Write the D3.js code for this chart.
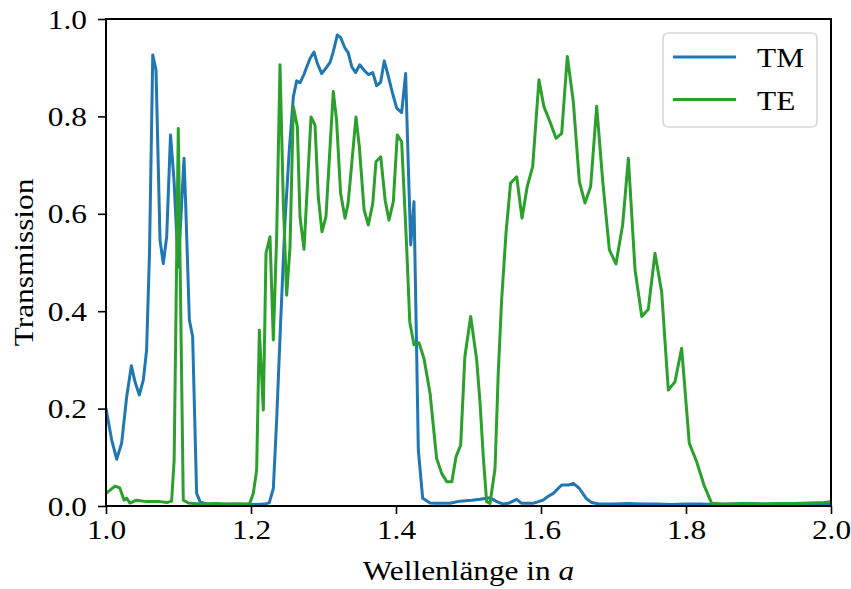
<!DOCTYPE html>
<html>
<head>
<meta charset="utf-8">
<script src="https://cdn.jsdelivr.net/npm/d3@7"></script>
<style>
  html, body { margin: 0; padding: 0; background: #fff; }
  svg { display: block; }
  text { font-family: "Liberation Serif", "DejaVu Serif", serif; fill: #000; }
</style>
</head>
<body>
<svg id="chart" width="851" height="589"></svg>
<script>
// Transmission spectra, [wavelength in units of a, transmission]
const tmData = [
  [1.000,0.200],[1.0078,0.136],[1.0147,0.096],[1.0216,0.129],[1.0285,0.224],[1.035,0.288],
  [1.040,0.255],[1.046,0.228],[1.0515,0.259],[1.056,0.320],[1.060,0.520],[1.0645,0.926],
  [1.069,0.895],[1.0745,0.546],[1.079,0.498],[1.0837,0.553],[1.089,0.762],[1.0938,0.669],
  [1.0997,0.491],[1.1076,0.714],[1.110,0.615],[1.115,0.382],[1.1195,0.348],[1.125,0.026],
  [1.130,0.008],[1.140,0.004],[1.160,0.003],[1.180,0.004],[1.200,0.003],[1.220,0.004],
  [1.2253,0.007],[1.2308,0.036],[1.2354,0.177],[1.241,0.382],[1.247,0.587],[1.2528,0.731],
  [1.2584,0.840],[1.263,0.873],[1.2676,0.869],[1.2735,0.888],[1.2814,0.919],[1.2869,0.932],
  [1.2915,0.909],[1.2975,0.888],[1.3034,0.899],[1.309,0.911],[1.3135,0.933],[1.319,0.967],
  [1.3236,0.962],[1.3297,0.940],[1.334,0.931],[1.339,0.902],[1.3443,0.890],[1.350,0.906],
  [1.3558,0.895],[1.3618,0.886],[1.368,0.890],[1.3733,0.863],[1.3788,0.870],[1.3838,0.914],
  [1.389,0.885],[1.3953,0.847],[1.401,0.817],[1.4078,0.808],[1.4133,0.888],[1.417,0.697],
  [1.4203,0.536],[1.4248,0.625],[1.4285,0.314],[1.4308,0.115],[1.4368,0.016],[1.447,0.006],
  [1.456,0.0055],[1.4745,0.0055],[1.488,0.010],[1.5044,0.012],[1.516,0.014],[1.5297,0.017],
  [1.539,0.009],[1.548,0.004],[1.555,0.0055],[1.5665,0.0137],[1.5733,0.0055],[1.589,0.0055],
  [1.603,0.012],[1.610,0.020],[1.617,0.026],[1.6285,0.043],[1.6377,0.043],[1.6446,0.0465],
  [1.653,0.036],[1.662,0.016],[1.670,0.007],[1.680,0.004],[1.700,0.004],[1.720,0.005],
  [1.740,0.004],[1.760,0.004],[1.780,0.003],[1.800,0.004],[1.820,0.004],[1.840,0.003],
  [1.860,0.004],[1.880,0.005],[1.900,0.004],[1.920,0.004],[1.940,0.005],[1.960,0.004],
  [1.980,0.004],[2.000,0.005]
];

const teData = [
  [1.000,0.026],[1.006,0.033],[1.0124,0.041],[1.019,0.037],[1.025,0.012],[1.0285,0.016],
  [1.033,0.006],[1.042,0.012],[1.056,0.009],[1.0745,0.009],[1.0837,0.007],[1.0905,0.010],
  [1.094,0.094],[1.0997,0.775],[1.102,0.520],[1.1066,0.012],[1.1135,0.006],[1.130,0.004],
  [1.150,0.005],[1.170,0.004],[1.190,0.004],[1.198,0.004],[1.2032,0.026],[1.2078,0.074],
  [1.2115,0.361],[1.217,0.197],[1.2207,0.519],[1.2262,0.553],[1.2308,0.341],[1.2354,0.553],
  [1.240,0.906],[1.2446,0.622],[1.2492,0.433],[1.2538,0.532],[1.2584,0.820],[1.2639,0.779],
  [1.2676,0.594],[1.2731,0.527],[1.2828,0.799],[1.2883,0.782],[1.2928,0.635],[1.2979,0.563],
  [1.3034,0.594],[1.3135,0.851],[1.318,0.793],[1.3236,0.642],[1.3297,0.591],[1.334,0.622],
  [1.3448,0.799],[1.3494,0.738],[1.356,0.608],[1.3618,0.577],[1.368,0.622],[1.3724,0.707],
  [1.379,0.717],[1.385,0.628],[1.3903,0.587],[1.3963,0.625],[1.4018,0.762],[1.4078,0.748],
  [1.4147,0.532],[1.419,0.378],[1.4248,0.331],[1.4317,0.335],[1.4386,0.303],[1.447,0.231],
  [1.456,0.098],[1.463,0.067],[1.470,0.050],[1.477,0.050],[1.4828,0.101],[1.4892,0.125],
  [1.495,0.307],[1.503,0.389],[1.5113,0.300],[1.516,0.210],[1.5204,0.101],[1.525,0.009],
  [1.5297,0.0055],[1.5366,0.077],[1.541,0.272],[1.5457,0.423],[1.5517,0.560],[1.558,0.663],
  [1.5665,0.676],[1.5738,0.591],[1.581,0.656],[1.5885,0.697],[1.5972,0.875],[1.604,0.820],
  [1.6124,0.789],[1.6207,0.755],[1.6285,0.765],[1.6363,0.923],[1.6446,0.830],[1.6529,0.666],
  [1.6607,0.622],[1.6685,0.656],[1.6768,0.821],[1.685,0.669],[1.6943,0.526],[1.7034,0.497],
  [1.7126,0.577],[1.7205,0.714],[1.7297,0.485],[1.739,0.389],[1.748,0.404],[1.7572,0.519],
  [1.7664,0.440],[1.7756,0.238],[1.7848,0.255],[1.794,0.324],[1.8045,0.129],[1.8147,0.091],
  [1.8248,0.043],[1.8354,0.0055],[1.850,0.004],[1.870,0.004],[1.890,0.005],[1.910,0.004],
  [1.930,0.005],[1.950,0.005],[1.970,0.006],[1.990,0.007],[2.000,0.009]
];

const seriesNames = ["TM", "TE"];
const seriesColors = ["#1f77b4", "#2ca02c"];
const xTicks = [1.0, 1.2, 1.4, 1.6, 1.8, 2.0];
const yTicks = [0.0, 0.2, 0.4, 0.6, 0.8, 1.0];
const xLabel = "Wellenlänge in ";
const xLabelVar = "a";
const yLabel = "Transmission";

const margin = { left: 106, top: 19, right: 20, bottom: 83 };
const W = 851, H = 589;
const plotW = W - margin.left - margin.right;  // 725
const plotH = H - margin.top - margin.bottom;  // 487

// The serif fallback runs narrower than the typeset labels, so each text is
// stretched to its natural width times this factor.
const widen = 1.16;
function stretch(sel) {
  sel.each(function () {
    const w = this.getComputedTextLength();
    d3.select(this).attr("textLength", w * widen).attr("lengthAdjust", "spacingAndGlyphs");
  });
}

const svg = d3.select("#chart");
const x = d3.scaleLinear().domain([1.0, 2.0]).range([margin.left, margin.left + plotW]);
const y = d3.scaleLinear().domain([0, 1]).range([margin.top + plotH, margin.top]);

svg.append("defs").append("clipPath").attr("id", "plotClip")
  .append("rect")
  .attr("x", margin.left).attr("y", margin.top)
  .attr("width", plotW).attr("height", plotH);

const line = d3.line().x(d => x(d[0])).y(d => y(d[1]));

const lines = svg.append("g").attr("clip-path", "url(#plotClip)");
[tmData, teData].forEach((data, i) => {
  lines.append("path")
    .datum(data)
    .attr("d", line)
    .attr("fill", "none")
    .attr("stroke", seriesColors[i])
    .attr("stroke-width", 3)
    .attr("stroke-linejoin", "round")
    .attr("stroke-linecap", "butt");
});

// Axes
const fmt = d3.format(".1f");
const xAxis = svg.append("g")
  .attr("transform", `translate(0,${margin.top + plotH})`)
  .call(d3.axisBottom(x).tickValues(xTicks).tickFormat(fmt).tickSize(8).tickPadding(6));
const yAxis = svg.append("g")
  .attr("transform", `translate(${margin.left},0)`)
  .call(d3.axisLeft(y).tickValues(yTicks).tickFormat(fmt).tickSize(8).tickPadding(11));

[xAxis, yAxis].forEach(g => {
  g.select(".domain").remove();
  g.selectAll(".tick line").attr("stroke", "#000").attr("stroke-width", 1.6);
  g.selectAll(".tick text")
    .attr("font-family", "Liberation Serif, DejaVu Serif, serif")
    .attr("font-size", 27)
    .attr("fill", "#000")
    .call(stretch);
});
xAxis.selectAll(".tick text").attr("dy", "0.72em");
yAxis.selectAll(".tick text").attr("dy", "0.34em");

// Frame
svg.append("rect")
  .attr("x", margin.left).attr("y", margin.top)
  .attr("width", plotW).attr("height", plotH)
  .attr("fill", "none").attr("stroke", "#000").attr("stroke-width", 2);

// Axis labels
const xl = svg.append("text")
  .attr("x", margin.left + plotW / 2)
  .attr("y", 580)
  .attr("text-anchor", "middle")
  .attr("font-size", 27);
xl.append("tspan").text(xLabel);
xl.append("tspan").attr("font-style", "italic").text(xLabelVar);
xl.call(stretch);

svg.append("text")
  .attr("transform", `translate(33,${margin.top + plotH / 2}) rotate(-90)`)
  .attr("text-anchor", "middle")
  .attr("font-size", 27)
  .text(yLabel)
  .call(stretch);

// Legend
const legend = svg.append("g");
legend.append("rect")
  .attr("x", 663).attr("y", 33)
  .attr("width", 154).attr("height", 94)
  .attr("rx", 5).attr("ry", 5)
  .attr("fill", "#fff").attr("fill-opacity", 0.8)
  .attr("stroke", "#d6d6d6").attr("stroke-width", 1.6);
seriesNames.forEach((name, i) => {
  const cy = 57 + i * 42.5;
  legend.append("line")
    .attr("x1", 673).attr("x2", 736)
    .attr("y1", cy).attr("y2", cy)
    .attr("stroke", seriesColors[i]).attr("stroke-width", 3);
  legend.append("text")
    .attr("x", 757).attr("y", cy + 10)
    .attr("font-size", 27)
    .text(name)
    .call(stretch);
});
</script>
</body>
</html>
